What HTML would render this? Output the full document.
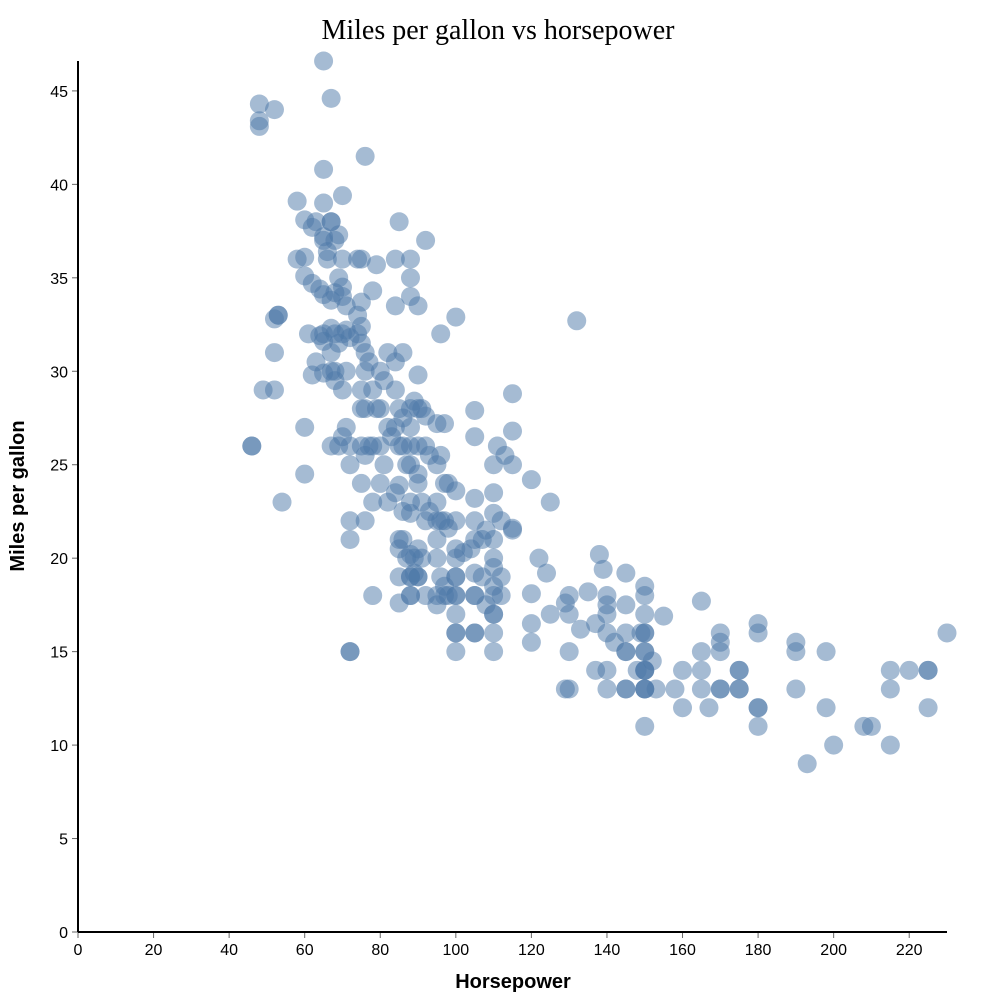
<!DOCTYPE html>
<html><head><meta charset="utf-8"><style>
html,body{margin:0;padding:0;background:#fff}
svg{display:block}
text{font-family:"Liberation Sans",Arial,sans-serif}
</style></head><body>
<svg id="chart" width="984" height="1006" xmlns="http://www.w3.org/2000/svg">
<text x="498" y="39" text-anchor="middle" style="font-family:'Liberation Serif',serif;font-size:28px">Miles per gallon vs horsepower</text>
<g id="marks"></g>
<g id="axes"></g>
<text x="513" y="988" text-anchor="middle" font-weight="bold" font-size="20">Horsepower</text>
<text transform="translate(24,496) rotate(-90)" text-anchor="middle" font-weight="bold" font-size="20">Miles per gallon</text>
</svg>
<script>
const xTicks=[0,20,40,60,80,100,120,140,160,180,200,220];
const yTicks=[0,5,10,15,20,25,30,35,40,45];
const horsepower=[65,67,48,52,48,48,76,65,70,58,65,60,62,63,67,67,69,65,92,65,68,66,58,60,66,70,74,75,84,88,85,62,65,67,68,70,70,71,69,88,75,78,79,60,64,84,90,88,74,52,53,53,61,64,65,65,67,67,68,69,70,71,72,74,75,75,76,77,76,80,82,84,86,96,100,132,52,63,62,65,67,68,68,70,71,75,78,79,80,81,82,84,85,86,88,88,89,90,90,91,92,95,97,105,49,52,60,75,76,46,46,67,69,70,71,72,72,75,76,77,78,80,81,83,84,85,86,87,88,88,90,90,92,93,95,96,97,98,100,105,110,111,113,115,115,115,120,125,60,54,75,78,80,82,84,85,86,88,88,90,91,92,93,95,95,96,97,98,100,105,105,110,110,110,112,115,115,72,72,76,85,85,86,87,88,89,90,90,91,95,95,96,97,100,100,100,100,102,104,105,107,108,110,110,110,110,112,105,107,85,88,88,89,90,92,95,95,97,98,100,100,100,105,105,108,110,110,112,120,85,88,88,78,72,72,100,100,100,105,105,110,110,120,120,122,124,125,129,130,130,130,129,130,133,135,137,138,139,140,140,140,140,140,140,137,142,145,145,145,145,145,145,145,148,149,150,150,150,150,150,150,150,150,150,150,150,150,150,150,152,153,155,158,160,160,165,165,165,165,167,170,170,170,170,170,175,175,175,175,180,180,180,180,180,190,190,190,193,198,198,200,208,210,215,215,215,220,225,225,225,230];
const mpg=[46.6,44.6,44.3,44,43.4,43.1,41.5,40.8,39.4,39.1,39,38.1,37.7,38,38,38,37.3,37.2,37,37,37,36.4,36,36.1,36,36,36,36,36,36,38,34.7,34.1,33.8,34.2,34.5,34,33.5,35,35,33.7,34.3,35.7,35.1,34.4,33.5,33.5,34,33,32.8,33,33,32,31.9,31.6,32,32.3,31,32,31.5,32,32.2,31.8,32,32.4,31.5,31,30.5,30,30,31,30.5,31,32,32.9,32.7,31,30.5,29.8,29.9,30,29.5,30,29,30,29,29,28,28,29.5,27,29,28,27.5,27,28,28.4,28,29.8,28,27.6,27.2,27.2,27.9,29,29,27,28,28,26,26,26,26,26.5,27,26,25,26,25.5,26,26,26,25,26.5,27,26,26,25,26,25,26,24.5,26,25.5,25,25.5,24,24,23.6,26.5,25,26,25.5,25,26.8,28.8,24.2,23,24.5,23,24,23,24,23,23.5,23.9,22.5,22.4,23,24,23,22,22.5,23,22,22,22,21.6,22,23.2,22,22.4,23.5,21,22,21.6,21.5,22,21,22,21,20.5,21,20,20.2,20,20.5,19,20,21,20,19,18.5,20.5,20,19,19,20.3,20.5,21,21,21.5,20,19.5,18.5,18,19,19.2,19,19,19,19,19.2,19,18,18,17.5,18,18,18,18,17,18,18,17.5,17,17,18,18.1,17.6,18,18,18,15,15,16,16,15,16,16,16,15,16.5,15.5,20,19.2,17,17.6,18,17,15,13,13,16.2,18.2,16.5,20.2,19.4,18,17.5,17,16,14,13,14,15.5,19.2,17.5,16,15,15,13,13,14,16,18.5,18,17,16,16,15,15,14,14,14,13,13,13,11,14.5,13,16.9,13,14,12,17.7,15,14,13,12,16,15.5,15,13,13,14,14,13,13,16.5,16,12,12,11,15.5,15,13,9,15,12,10,11,11,14,13,10,14,14,14,12,16];

const L=78,R=947,T=61,B=932,xMax=230,yMax=46.6;
const x=v=>L+v*(R-L)/xMax;
const y=v=>B-v*(B-T)/yMax;
const NS="http://www.w3.org/2000/svg";
const marks=document.getElementById('marks');
for(let i=0;i<horsepower.length;i++){
  const c=document.createElementNS(NS,'circle');
  c.setAttribute('cx',x(horsepower[i]));
  c.setAttribute('cy',y(mpg[i]));
  c.setAttribute('r',9.5);
  c.setAttribute('fill','#4c78a8');
  c.setAttribute('fill-opacity','0.5');
  
  
  marks.appendChild(c);
}
const axes=document.getElementById('axes');
function mk(tag,attrs,txt){const e=document.createElementNS(NS,tag);for(const k in attrs)e.setAttribute(k,attrs[k]);if(txt!==undefined)e.textContent=txt;axes.appendChild(e);return e;}
xTicks.forEach(t=>{
  const tl=mk('line',{x1:x(t),x2:x(t),y1:B,y2:B+6,stroke:'#666','stroke-width':1});
  
  
  const lb=mk('text',{x:x(t),y:B+23,'text-anchor':'middle','font-size':'16'},t);
  
  
});
yTicks.forEach(t=>{
  const tl=mk('line',{x1:L-6,x2:L,y1:y(t),y2:y(t),stroke:'#666','stroke-width':1});
  
  
  const lb=mk('text',{x:L-10,y:y(t)+6,'text-anchor':'end','font-size':'16'},t);
  
  
});
const xa=mk('line',{x1:L,x2:R,y1:B,y2:B,stroke:'#000','stroke-width':2});


const ya=mk('line',{x1:L,x2:L,y1:T,y2:B,stroke:'#000','stroke-width':2});


</script>
</body></html>
